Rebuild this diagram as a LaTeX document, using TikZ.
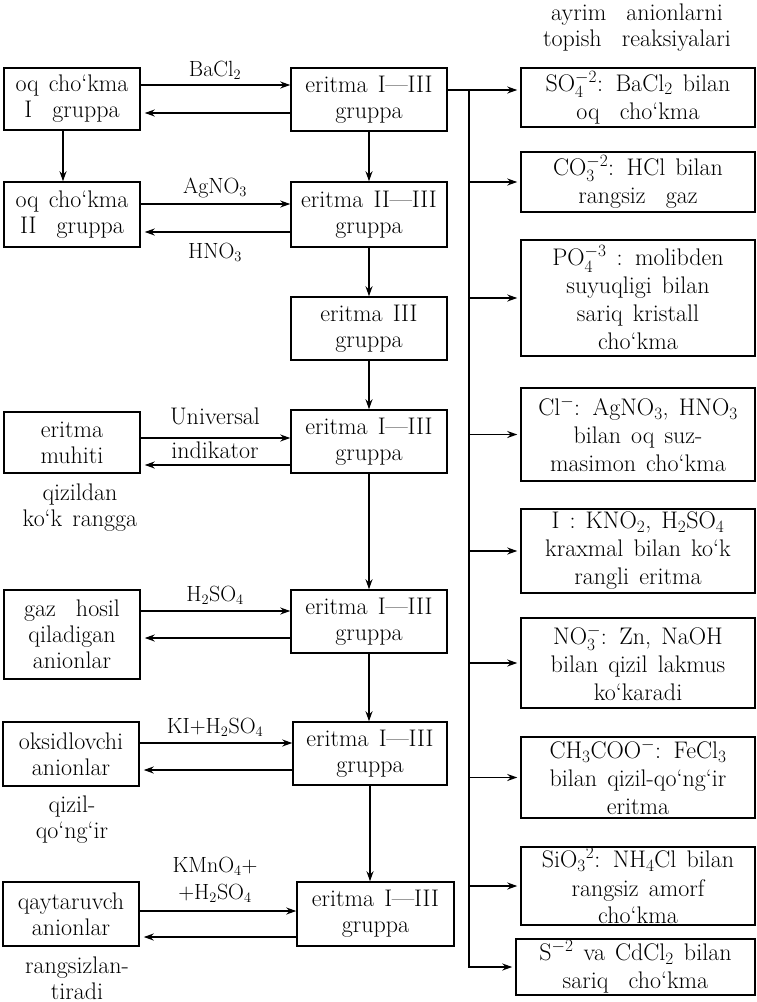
\documentclass[tikz,border=0pt]{standalone}
\usepackage{fontspec}
\usetikzlibrary{arrows.meta}
\newcommand\boxfont{\fontsize{24}{26}\selectfont\spaceskip=0.42em plus 0.1em minus 0.05em\relax}
\newcommand\rboxfont{\fontsize{24}{28}\selectfont\spaceskip=0.42em plus 0.1em minus 0.05em\relax}
\newcommand\labfont{\fontsize{22}{24}\selectfont}
\begin{document}
\begin{tikzpicture}[x=1pt,y=-1pt,
  box/.style={draw, line width=1.5pt, align=center, inner sep=0pt, font=\boxfont},
  rbox/.style={box, font=\rboxfont},
  lab/.style={font=\labfont, inner sep=0pt},
  txt/.style={font=\boxfont, align=center, inner sep=0pt},
  arr/.style={line width=1.3pt, -{Stealth[length=10pt,width=7pt]}},
  larr/.style={arr, shorten >=4pt},
  rarr/.style={arr, shorten >=3pt},
  ln/.style={line width=1.3pt}]
\useasboundingbox (0,0) rectangle (756,1002);

% left column
\node[box, minimum width=136pt, minimum height=62pt] (L1) at (72,99) {oq cho‘kma\\I~~gruppa};
\node[box, minimum width=136pt, minimum height=65pt] (L2) at (72,214.5) {oq cho‘kma\\II~~gruppa};
\node[box, minimum width=136pt, minimum height=61pt] (L3) at (72,442.5) {eritma\\muhiti};
\node[box, minimum width=136pt, minimum height=89pt] (L4) at (72,634.5) {gaz~~hosil\\qiladigan\\anionlar};
\node[box, minimum width=136pt, minimum height=64pt] (L5) at (71,754) {oksidlovchi\\anionlar};
\node[box, minimum width=136pt, minimum height=64pt] (L6) at (71,914) {qaytaruvch\\anionlar};

% middle column
\node[box, minimum width=156pt, minimum height=63pt] (M1) at (369,99.5) {eritma I—III\\gruppa};
\node[box, minimum width=156pt, minimum height=65pt] (M2) at (369,214.5) {eritma II—III\\gruppa};
\node[box, minimum width=156pt, minimum height=63pt] (M3) at (369,328.5) {eritma III\\gruppa};
\node[box, minimum width=156pt, minimum height=63pt] (M4) at (369,441.5) {eritma I—III\\gruppa};
\node[box, minimum width=156pt, minimum height=63pt] (M5) at (369,621.5) {eritma I—III\\gruppa};
\node[box, minimum width=154pt, minimum height=63pt] (M6) at (370,753.5) {eritma I—III\\gruppa};
\node[box, minimum width=157pt, minimum height=64pt] (M7) at (375.5,914) {eritma I—III\\gruppa};

% right column
\node[txt] (H) at (637,28) {ayrim~~anionlarni\\topish~~reaksiyalari};
\node[rbox, minimum width=234pt, minimum height=59pt] (R1) at (638,97.5) {SO$_4^{-2}$: BaCl$_2$ bilan\\oq~~cho‘kma};
\node[rbox, minimum width=234pt, minimum height=60pt] (R2) at (638,182) {CO$_3^{-2}$: HCl bilan\\rangsiz~~gaz};
\node[rbox, minimum width=234pt, minimum height=116pt] (R3) at (638,298) {PO$_4^{-3}$ : molibden\\suyuqligi bilan\\sariq kristall\\cho‘kma};
\node[rbox, minimum width=234pt, minimum height=93pt] (R4) at (638,434.5) {Cl$^-$: AgNO$_3$, HNO$_3$\\bilan oq suz-\\masimon cho‘kma};
\node[rbox, minimum width=234pt, minimum height=84pt] (R5) at (638,551) {I : KNO$_2$, H$_2$SO$_4$\\kraxmal bilan ko‘k\\rangli eritma};
\node[rbox, minimum width=234pt, minimum height=90pt] (R6) at (638,663) {NO$_3^-$: Zn, NaOH\\bilan qizil lakmus\\ko‘karadi};
\node[rbox, minimum width=234pt, minimum height=81pt] (R7) at (638,777.5) {CH$_3$COO$^-$: FeCl$_3$\\bilan qizil-qo‘ng‘ir\\eritma};
\node[rbox, minimum width=234pt, minimum height=78pt] (R8) at (638,886) {SiO$_3{}^{2}$: NH$_4$Cl bilan\\rangsiz amorf\\cho‘kma};
\node[rbox, minimum width=239pt, minimum height=56pt] (R9) at (635.5,967) {S$^{-2}$ va CdCl$_2$ bilan\\sariq~~cho‘kma};

% texts under left boxes
\node[txt] (T1) at (80,508) {qizildan\\ko‘k rangga};
\node[txt] (T2) at (72,820) {qizil-\\qo‘ng‘ir};
\node[txt] (T3) at (77,978) {rangsizlan-\\tiradi};

% reagent labels
\node[lab] (B1) at (215,70) {BaCl$_2$};
\node[lab] (B2) at (215,188) {AgNO$_3$};
\node[lab] (B3) at (215,252) {HNO$_3$};
\node[txt] (B4) at (215,416) {Universal};
\node[txt] (B5) at (215,450) {indikator};
\node[lab] (B6) at (215,595) {H$_2$SO$_4$};
\node[lab] (B7) at (215,727) {KI+H$_2$SO$_4$};
\node[lab] (B8) at (215,866) {KMnO$_4$+};
\node[lab] (B9) at (215,893) {+H$_2$SO$_4$};

% horizontal arrows left <-> middle
\draw[arr]  (L1.east |- 0,85)  -- (M1.west |- 0,85);
\draw[larr] (M1.west |- 0,113) -- (L1.east |- 0,113);
\draw[arr]  (L2.east |- 0,204) -- (M2.west |- 0,204);
\draw[larr] (M2.west |- 0,232) -- (L2.east |- 0,232);
\draw[arr]  (L3.east |- 0,438) -- (M4.west |- 0,438);
\draw[larr] (M4.west |- 0,465) -- (L3.east |- 0,465);
\draw[arr]  (L4.east |- 0,611) -- (M5.west |- 0,611);
\draw[larr] (M5.west |- 0,638) -- (L4.east |- 0,638);
\draw[arr]  (L5.east |- 0,743) -- (M6.west |- 0,743);
\draw[larr] (M6.west |- 0,770) -- (L5.east |- 0,770);
\draw[arr]  (L6.east |- 0,911) -- (M7.west |- 0,911);
\draw[larr] (M7.west |- 0,937) -- (L6.east |- 0,937);

% vertical arrows
\draw[arr] (L1.south -| 63,0) -- (L2.north -| 63,0);
\draw[arr] (M1.south) -- (M2.north);
\draw[arr] (M2.south) -- (M3.north);
\draw[arr] (M3.south) -- (M4.north);
\draw[arr] (M4.south) -- (M5.north);
\draw[arr] (M5.south) -- (M5.south |- M6.north);
\draw[arr] (M6.south) -- (M6.south |- M7.north);

% right bus
\coordinate (bus) at (469,90);
\draw[rarr] (M1.east |- bus) -- (R1.west |- bus);
\draw[rarr] (bus) |- (R9.west);
\foreach \r in {R2,R3,R4,R5,R6,R7,R8}
  \draw[rarr] (\r.west -| bus) -- (\r.west);
\end{tikzpicture}
\end{document}
